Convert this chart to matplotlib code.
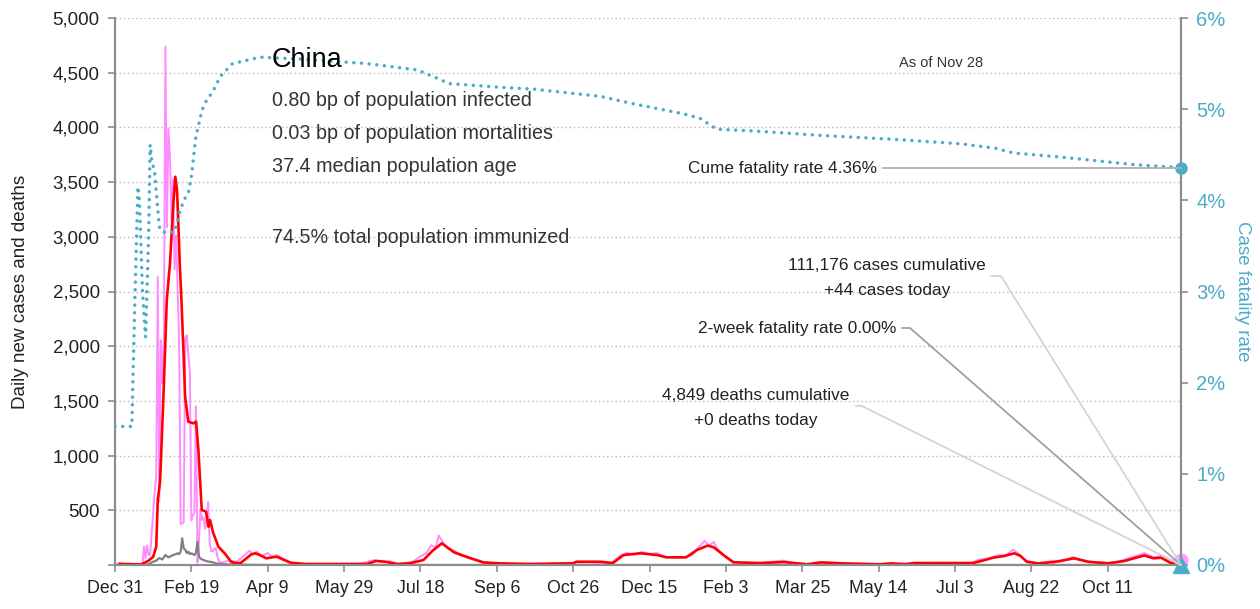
import matplotlib
matplotlib.use("Agg")
import matplotlib.pyplot as plt
from matplotlib.ticker import FuncFormatter, MultipleLocator

plt.rcParams['font.family'] = ['Liberation Sans', 'DejaVu Sans']

# day 0 = Dec 31 2019, last day (698) = Nov 28 2021
tick_labels = ['Dec 31', 'Feb 19', 'Apr 9', 'May 29', 'Jul 18', 'Sep 6', 'Oct 26',
               'Dec 15', 'Feb 3', 'Mar 25', 'May 14', 'Jul 3', 'Aug 22', 'Oct 11']

# daily new cases (pink)
case_days = [0, 1, 3, 4, 5, 6, 16, 17, 18, 19, 20, 21, 22, 23, 24, 25, 26, 27, 28, 29,
             30, 31, 32, 33, 34, 35, 36, 37, 38, 39, 40, 41, 42, 43, 44, 45, 46, 47, 48, 49,
             50, 51, 52, 53, 54, 55, 56, 57, 58, 59, 60, 61, 62, 63, 64, 65, 66, 67, 68, 69,
             70, 75, 80, 84, 88, 90, 93, 96, 100, 103, 106, 110, 115, 120, 140, 160, 170, 175,
             180, 185, 195, 200, 204, 207, 210, 212, 215, 218, 222, 226, 232, 238, 245, 260,
             280, 300, 310, 325, 330, 335, 340, 345, 350, 355, 360, 370, 378, 382, 386, 389,
             392, 395, 400, 405, 420, 437, 445, 455, 465, 480, 500, 520, 540, 560, 566, 572,
             578, 583, 588, 592, 596, 605, 614, 620, 627, 632, 640, 655, 662, 670, 674, 680,
             686, 692, 698]
case_vals = [27, 0, 17, 15, 0, 0, 0, 0, 10, 170, 60, 180, 90, 95, 277, 486, 669, 802, 2632, 578,
             2054, 1661, 2089, 4739, 3086, 3991, 3733, 3147, 3523, 2704, 3015, 2525, 2032, 373, 380, 390, 2055, 2100, 1921, 1777,
             408, 458, 473, 1451, 21, 219, 513, 412, 434, 328, 428, 576, 204, 125, 125, 151, 153, 80, 40, 20,
             25, 40, 30, 80, 130, 100, 120, 80, 110, 75, 90, 60, 20, 10, 8, 12, 45, 25,
             35, 8, 30, 80, 110, 180, 160, 270, 200, 150, 130, 90, 60, 40, 15, 10,
             12, 20, 25, 15, 80, 110, 95, 120, 100, 110, 75, 65, 90, 160, 220, 180,
             210, 140, 70, 30, 15, 40, 20, 8, 25, 15, 10, 15, 20, 15, 50, 60,
             90, 85, 140, 100, 40, 15, 40, 30, 75, 50, 25, 20, 55, 90, 110, 70,
             85, 40, 44]

# 7-day average of cases (red)
avg_days = [3, 10, 17, 19, 22, 25, 27, 28, 29.5, 30.6, 31.7, 32.8, 33.9, 36, 38.2, 39.5, 40.6, 41.3,
            42.4, 43.5, 44.8, 45.9, 48, 51.3, 53.1, 54.6, 56.8, 59.6, 61.2, 62.2, 64.4, 67.7, 72, 76,
            78, 82, 86, 89, 92, 95, 99, 103, 106, 110, 115, 125, 165, 171, 177, 185, 193, 202,
            208, 214, 222, 230, 241, 252, 272, 300, 302, 318, 326, 333, 344, 355, 361, 374, 381,
            388, 392, 399, 405, 423, 438, 453, 462, 475, 501, 508, 518, 523, 562, 569, 575, 582,
            589, 593, 597, 604, 615, 628, 637, 650, 661, 674, 680, 685, 691, 698]
avg_vals = [10, 8, 5, 18, 40, 75, 167, 594, 761, 1143, 1538, 1965, 2422, 2757, 3306, 3549, 3427, 3183,
            2757, 2422, 1965, 1538, 1310, 1295, 1310, 1051, 503, 487, 350, 411, 290, 167, 104, 30,
            20, 16, 60, 95, 107, 90, 61, 70, 76, 50, 21, 9, 9, 37, 30, 9, 15, 46,
            131, 198, 116, 76, 24, 15, 9, 15, 30, 30, 18, 91, 107, 91, 70, 70, 137,
            177, 162, 85, 24, 18, 27, 6, 24, 15, 6, 15, 6, 18, 18, 43, 67, 82,
            107, 82, 30, 15, 27, 61, 30, 15, 37, 88, 61, 67, 21, 6]

# daily deaths (gray)
death_days = [0, 20, 22, 25, 27, 29, 31, 33, 35, 38, 40, 41, 42, 43, 44, 45, 46, 47, 48, 49,
              50, 51, 52, 53, 54, 55, 56, 57, 58, 60, 62, 64, 66, 70, 75, 80, 100, 698]
death_vals = [0, 0, 8, 30, 40, 64, 50, 91, 70, 91, 100, 107, 100, 120, 244, 150, 140, 110, 122, 100,
              107, 100, 91, 110, 213, 76, 60, 50, 46, 35, 30, 25, 15, 8, 5, 3, 0, 0]

# cumulative case fatality rate, %
cfr_days = [0, 11, 13, 15, 16, 18, 20, 22, 23, 24, 26, 28, 29, 31, 39, 42, 45, 48, 50, 53,
            57, 60, 64, 69, 77, 95, 121, 165, 198, 208, 219, 252, 274, 318, 339, 372, 383, 394,
            419, 464, 509, 554, 577, 588, 622, 668, 698]
cfr_vals = [1.52, 1.52, 2.9, 4.15, 4.0, 3.0, 2.5, 3.6, 4.61, 4.45, 4.3, 3.9, 3.71, 3.65, 3.65, 3.85, 4.0, 4.08, 4.26, 4.7,
            4.99, 5.1, 5.19, 5.36, 5.5, 5.57, 5.55, 5.5, 5.43, 5.36, 5.28, 5.24, 5.22, 5.14, 5.06, 4.95, 4.9, 4.78,
            4.76, 4.71, 4.67, 4.62, 4.57, 4.52, 4.47, 4.39, 4.36]

teal = '#4bacc6'
spine_gray = '#8c8c8c'
ink = '#222222'

fig = plt.figure(figsize=(12.6, 6.09), dpi=100)
ax = fig.add_axes([115 / 1260, 44 / 609, 1066 / 1260, 547 / 609])

ax.plot(case_days, case_vals, color='#ff8cff', lw=1.4, zorder=2)
ax.plot(death_days, death_vals, color='#808080', lw=1.6, zorder=3)
ax.plot(avg_days, avg_vals, color='red', lw=1.9, zorder=4)
ax.plot([case_days[-1]], [case_vals[-1]], 'o', color='#ff9cff', ms=9, clip_on=False, zorder=5)

ax.set_xlim(0, 698)
ax.set_ylim(0, 5000)
ax.set_xticks([50 * i for i in range(len(tick_labels))])
ax.set_xticklabels(tick_labels)
ax.yaxis.set_major_locator(MultipleLocator(500))
ax.yaxis.set_major_formatter(FuncFormatter(lambda v, p: '' if v == 0 else f'{v:,.0f}'))
ax.yaxis.grid(True, ls=(0, (1, 2)), color='#b8b8b8', lw=1)
ax.set_axisbelow(True)
ax.tick_params(axis='both', colors=spine_gray, length=5, width=1.2, labelcolor=ink)
ax.tick_params(axis='x', pad=6, labelsize=12.8)
ax.tick_params(axis='y', pad=6, labelsize=13.5)
ax.set_ylabel('Daily new cases and deaths', fontsize=13.6, color=ink)
ax.yaxis.set_label_coords(-0.081, 0.5)
for s in ['left', 'bottom', 'right']:
    ax.spines[s].set_color(spine_gray)
    ax.spines[s].set_linewidth(1.5)
ax.spines['top'].set_visible(False)

ax2 = ax.twinx()
ax2.plot(cfr_days, cfr_vals, color=teal, lw=2.5, ls=(0, (0.01, 2.2)), dash_capstyle='round', zorder=5)
ax2.plot([cfr_days[-1]], [cfr_vals[-1]], 'o', color=teal, ms=8, clip_on=False, zorder=6)
ax2.plot([cfr_days[-1]], [0], '^', color=teal, ms=11, clip_on=False, zorder=6)
ax2.set_ylim(0, 6)
ax2.set_xlim(0, 698)
ax2.yaxis.set_major_locator(MultipleLocator(1))
ax2.yaxis.set_major_formatter(FuncFormatter(lambda v, p: f'{v:.0f}%'))
ax2.tick_params(axis='y', colors=spine_gray, length=5, width=1.2, pad=6, labelsize=14.5, labelcolor=teal)
ax2.set_ylabel('Case fatality rate', fontsize=13.5, color=teal, rotation=270, va='center')
ax2.yaxis.set_label_coords(1.058, 0.5)
for s in ['left', 'bottom', 'right']:
    ax2.spines[s].set_color(spine_gray)
    ax2.spines[s].set_linewidth(1.5)
ax2.spines['top'].set_visible(False)


def px(x, y):
    return x / 1260, 1 - y / 609


# header text
fig.text(*px(272, 60), 'China', fontsize=19.5, color='black', va='center', ha='left')
info = ['0.80 bp of population infected', '0.03 bp of population mortalities',
        '37.4 median population age']
for i, line in enumerate(info):
    fig.text(*px(272, 100 + 33.5 * i), line, fontsize=14.2, color='#333333', va='center', ha='left')
fig.text(*px(272, 237), '74.5% total population immunized', fontsize=14.2, color='#333333',
         va='center', ha='left')
fig.text(*px(941, 63), 'As of Nov 28', fontsize=10.5, color='#333333', va='center', ha='center')

# annotation labels and leader lines (figure pixel positions)
fig.text(*px(877, 168), 'Cume fatality rate 4.36%', fontsize=12.4, color=ink, va='center', ha='right')
fig.text(*px(887, 278), '111,176 cases cumulative\n+44 cases today', fontsize=12.4, color=ink,
         va='center', ha='center', linespacing=1.75)
fig.text(*px(896, 329), '2-week fatality rate 0.00%', fontsize=12.4, color=ink, va='center', ha='right')
fig.text(*px(756, 408), '4,849 deaths cumulative\n+0 deaths today', fontsize=12.4, color=ink,
         va='center', ha='center', linespacing=1.75)

end = (1181, 565)
leaders = [([883, 1181], [168, 168], '#b0b0b0'),
           ([991, 1001, end[0]], [276, 276, end[1]], '#d4d4d4'),
           ([902, 910, end[0]], [328, 328, end[1]], '#a0a0a0'),
           ([856, 862, end[0]], [406, 406, end[1]], '#d4d4d4')]
for xs, ys, c in leaders:
    fig.add_artist(plt.Line2D([x / 1260 for x in xs], [1 - y / 609 for y in ys],
                              color=c, lw=1.3, transform=fig.transFigure, zorder=1))

fig.savefig('out.png', dpi=100)
